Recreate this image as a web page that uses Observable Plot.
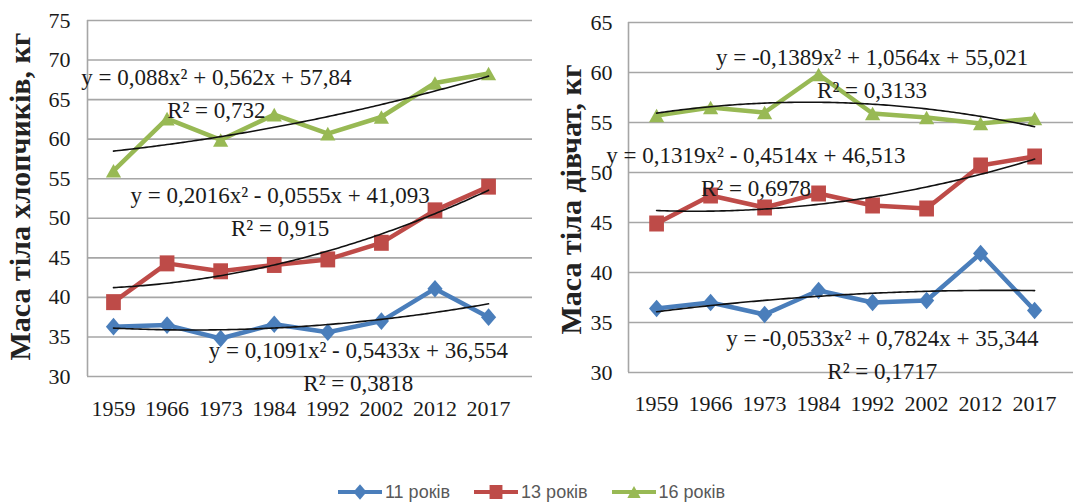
<!DOCTYPE html>
<html><head><meta charset="utf-8">
<script src="https://cdn.jsdelivr.net/npm/d3@7"></script>
<script src="https://cdn.jsdelivr.net/npm/@observablehq/plot@0.6"></script>
<style>
body{margin:0;background:#fff;}
#charts{display:flex;width:1075px;}
#legend{display:flex;justify-content:center;width:1075px;padding-right:12px;box-sizing:border-box;margin-top:56px;font-family:"Liberation Sans",Arial,sans-serif;font-size:18px;color:#595959;}
.item{display:flex;align-items:center;margin:0 12px;}
.item span{margin-left:3px;}
</style></head><body>
<div id="charts"><div id="left"></div><div id="right"></div></div>
<div id="legend"></div>
<script>
// ---- data ----
const years = ["1959","1966","1973","1984","1992","2002","2012","2017"];
const seriesNames = ["11 років","13 років","16 років"];
const seriesColors = ["#4A7EBB","#BE4B48","#98B954"];

const boys11 = [36.3, 36.5, 34.8, 36.6, 35.6, 37.0, 41.1, 37.5];
const boys13 = [39.4, 44.3, 43.3, 44.1, 44.8, 46.9, 51.0, 54.0];
const boys16 = [56.0, 62.6, 59.9, 63.1, 60.7, 62.8, 67.1, 68.3];
const girls11 = [36.4, 37.0, 35.8, 38.2, 37.0, 37.2, 41.9, 36.2];
const girls13 = [44.9, 47.7, 46.5, 47.9, 46.7, 46.4, 50.7, 51.6];
const girls16 = [55.7, 56.5, 56.0, 59.8, 55.9, 55.5, 54.9, 55.4];

// trendline coefficients (a, b, c) as printed on the chart, x = 1..8
const boysCoefs = [[0.1091, -0.5433, 36.554], [0.2016, -0.0555, 41.093], [0.088, 0.562, 57.84]];
const girlsCoefs = [[-0.0533, 0.7824, 35.344], [0.1319, -0.4514, 46.513], [-0.1389, 1.0564, 55.021]];

const boysEq = ["y = 0,1091x² - 0,5433x + 36,554\nR² = 0,3818", "y = 0,2016x² - 0,0555x + 41,093\nR² = 0,915", "y = 0,088x² + 0,562x + 57,84\nR² = 0,732"];
const girlsEq = ["y = -0,0533x² + 0,7824x + 35,344\nR² = 0,1717", "y = 0,1319x² - 0,4514x + 46,513\nR² = 0,6978", "y = -0,1389x² + 1,0564x + 55,021\nR² = 0,3133"];
// label anchors in data space (x index, kg)
const boysEqX = [5.57, 4.11, 2.92];
const boysEqY = [31.6, 51.2, 66.1];
const girlsEqX = [5.18, 2.84, 4.99];
const girlsEqY = [32.1, 50.4, 60.2];

const boysTitle = "Маса тіла хлопчиків, кг";
const girlsTitle = "Маса тіла дівчат, кг";

// ---- marker shapes ----
function diamondPath(ctx, r){ const w=r*0.95, h=r*1.1; ctx.moveTo(0,-h); ctx.lineTo(w,0); ctx.lineTo(0,h); ctx.lineTo(-w,0); ctx.closePath(); }
function squarePath(ctx, r){ const w=r*0.92, h=r*1.0; ctx.rect(-w,-h,2*w,2*h); }
function trianglePath(ctx, r){ const w=r*0.95, h=r*0.85; ctx.moveTo(0,-h); ctx.lineTo(w,h); ctx.lineTo(-w,h); ctx.closePath(); }
const shapeFns = [diamondPath, squarePath, trianglePath];
const symbols = shapeFns.map(f => ({draw(ctx, size){ f(ctx, Math.sqrt(size/Math.PI)); }}));

const gridColor = "#a6a6a6";

function chart(o){
  const ticks = d3.range(o.yDomain[0], o.yDomain[1] + 1, 5);
  const marks = [
    Plot.gridY(ticks, {stroke: gridColor, strokeOpacity: 1, strokeWidth: 1.6}),
    Plot.ruleX([o.xDomain[0]], {y1: o.yDomain[0], y2: o.yDomain[1], stroke: gridColor, strokeWidth: 1.6}),
    Plot.axisY(ticks, {tickSize: 0, tickPadding: o.yPad, fontSize: 22, label: null}),
    Plot.axisX(d3.range(1, 9), {tickFormat: d => years[d-1], tickSize: 0, tickPadding: o.xPad, fontSize: 22, label: null})
  ];
  o.series.forEach((vals, s) => {
    const rows = vals.map((v, i) => ({x: i + 1, y: v}));
    marks.push(Plot.line(rows, {x: "x", y: "y", stroke: seriesColors[s], strokeWidth: 4.5, strokeLinejoin: "round"}));
    marks.push(Plot.dot(rows, {x: "x", y: "y", r: 8, symbol: symbols[s], fill: seriesColors[s], stroke: "none"}));
  });
  o.coefs.forEach(([a, b, c]) => {
    const t = d3.range(1, 8.001, 0.05).map(x => ({x, y: a*x*x + b*x + c}));
    marks.push(Plot.line(t, {x: "x", y: "y", stroke: "#111", strokeWidth: 1.6}));
  });
  const labels = o.eq.map((text, i) => ({text, x: o.eqX[i], y: o.eqY[i]}));
  marks.push(Plot.text(labels, {x: "x", y: "y", text: "text", textAnchor: "middle", lineAnchor: "middle", lineHeight: 1.45, fontSize: 23, fill: "#1a1a1a"}));
  marks.push(Plot.text([o.title], {text: d => d, frameAnchor: "left", textAnchor: "middle", lineAnchor: "middle", rotate: -90, dx: o.titleDx, dy: o.titleDy, fontSize: 30, fontWeight: "bold", fill: "#222"}));
  return Plot.plot({
    width: o.width, height: 425,
    marginLeft: o.ml, marginRight: o.mr, marginTop: o.mt, marginBottom: o.mb,
    x: {type: "linear", domain: o.xDomain},
    y: {domain: o.yDomain},
    style: {fontFamily: "'Liberation Serif', 'Times New Roman', serif", fontSize: "22px", color: "#1a1a1a", background: "white", overflow: "visible"},
    marks
  });
}

document.getElementById("left").append(chart({
  width: 540, ml: 87, mr: 8, mt: 20, mb: 49, xDomain: [0.515, 8.82], yDomain: [30, 75],
  series: [boys11, boys13, boys16], coefs: boysCoefs, eq: boysEq, eqX: boysEqX, eqY: boysEqY,
  title: boysTitle, titleDx: -67, titleDy: -2, yPad: 17, xPad: 24
}));
document.getElementById("right").append(chart({
  width: 535, ml: 88, mr: 2, mt: 22, mb: 53, xDomain: [0.48, 8.72], yDomain: [30, 65],
  series: [girls11, girls13, girls16], coefs: girlsCoefs, eq: girlsEq, eqX: girlsEqX, eqY: girlsEqY,
  title: girlsTitle, titleDx: -57, titleDy: 2, yPad: 16, xPad: 23
}));

// ---- legend ----
const legend = d3.select("#legend");
seriesNames.forEach((name, s) => {
  const item = legend.append("div").attr("class", "item");
  const svg = item.append("svg").attr("width", 44).attr("height", 22);
  svg.append("line").attr("x1", 0).attr("x2", 44).attr("y1", 11).attr("y2", 11).attr("stroke", seriesColors[s]).attr("stroke-width", 4);
  const p = d3.path(); shapeFns[s](p, 7);
  svg.append("path").attr("transform", "translate(22,11)").attr("d", p.toString()).attr("fill", seriesColors[s]);
  item.append("span").text(name);
});
</script>
</body></html>
